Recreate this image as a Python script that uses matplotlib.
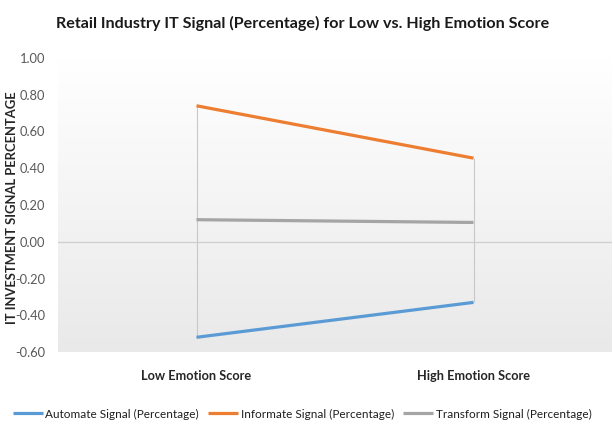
import numpy as np
import matplotlib
matplotlib.use("Agg")
import matplotlib.pyplot as plt
from matplotlib.colors import LinearSegmentedColormap

plt.rcParams['font.family'] = ['Lato', 'DejaVu Sans']

categories = ["Low Emotion Score", "High Emotion Score"]
automate = [-0.52, -0.33]
informate = [0.74, 0.455]
transform = [0.12, 0.105]
series_names = ["Automate Signal (Percentage)", "Informate Signal (Percentage)",
                "Transform Signal (Percentage)"]
yticks = [-0.60, -0.40, -0.20, 0.00, 0.20, 0.40, 0.60, 0.80, 1.00]

colors = ["#5B9BD5", "#ED7D31", "#A5A5A5"]

fig = plt.figure(figsize=(6.13, 4.30), dpi=100)
ax = fig.add_axes([58 / 613, 1 - 352 / 430, 554 / 613, 294 / 430])

x = np.arange(len(categories))
xmin, xmax = -0.5, len(categories) - 0.5
ymin, ymax = min(yticks), max(yticks)

# soft vertical gradient behind the plot area: white at top, light grey at bottom
grad = np.linspace(1, 0, 256).reshape(-1, 1)
cmap = LinearSegmentedColormap.from_list("bg", ["#FFFFFF", "#E9E9E9"])
ax.imshow(grad, extent=[xmin, xmax, ymin, ymax], aspect="auto", cmap=cmap,
          zorder=0, origin="lower", interpolation="bilinear")

# zero axis line
ax.axhline(0, color="#D0D0D0", lw=1.0, zorder=1)

# high-low lines
all_series = [automate, informate, transform]
for i in range(len(categories)):
    vals = [s[i] for s in all_series]
    ax.vlines(x[i], min(vals), max(vals), color="#C8C8C8", lw=0.8, zorder=2)

for vals, name, c in zip(all_series, series_names, colors):
    ax.plot(x, vals, color=c, lw=2.3, label=name, zorder=3, solid_capstyle="butt")

ax.set_xlim(xmin, xmax)
ax.set_ylim(ymin, ymax)
ax.set_yticks(yticks)
ax.set_yticklabels([f"{v:.2f}" for v in yticks], color="#595959", fontsize=9.3)
ax.set_xticks(x)
ax.set_xticklabels(categories, fontsize=9.2, color="#262626", fontweight="bold")
ax.tick_params(axis="both", length=0)
ax.tick_params(axis="x", pad=13)
ax.tick_params(axis="y", pad=9)
for sp in ax.spines.values():
    sp.set_visible(False)

ax.set_ylabel("IT INVESTMENT SIGNAL PERCENTAGE", fontsize=9.4, fontweight="bold",
              color="#262626")
ax.yaxis.set_label_coords(-0.073, 0.49)

fig.text(0.494, 1 - 23 / 430, "Retail Industry IT Signal (Percentage) for Low vs. High Emotion Score",
         ha="center", va="center", fontsize=11.6, fontweight="bold", color="#1a1a1a")

fig.legend(loc="center", bbox_to_anchor=(0.493, 1 - 414 / 430), ncol=3, frameon=False,
           fontsize=8.45, handlelength=2.55, handletextpad=0.2, columnspacing=0.8,
           labelcolor="#1F1F1F")

fig.savefig("out.png", dpi=100, facecolor="white")
